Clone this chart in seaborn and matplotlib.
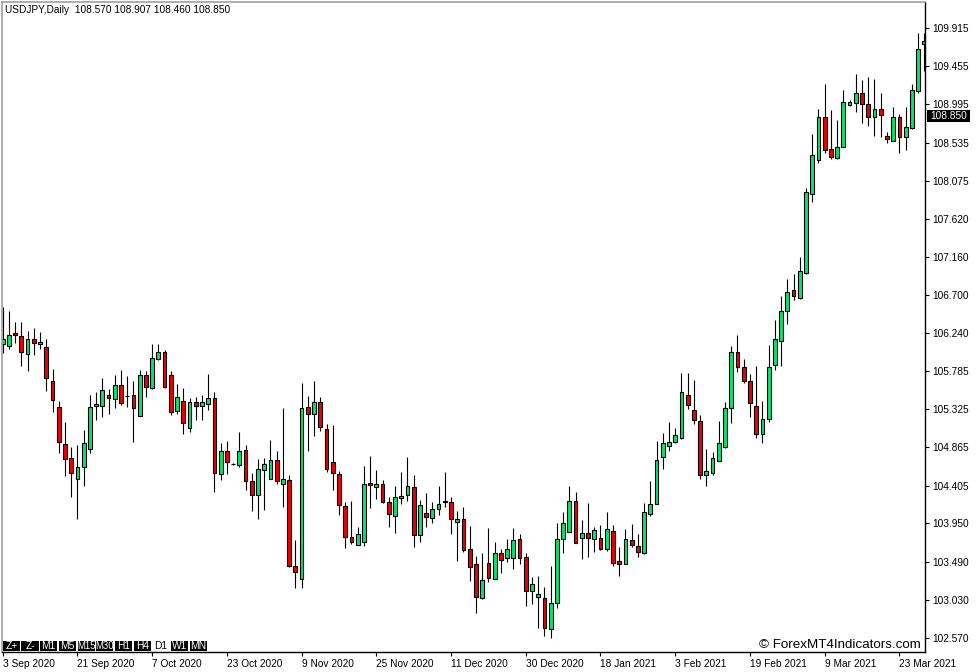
import matplotlib
matplotlib.use("Agg")
import matplotlib.pyplot as plt
from matplotlib.patches import Rectangle
import numpy as np
import pandas as pd
import seaborn as sns

# ---------------- data ----------------
opens = [106.110, 106.086, 106.242, 106.210, 105.985, 106.170, 106.106, 106.078, 105.664, 105.347,
         104.906, 104.733, 104.480, 104.625, 104.842, 105.363, 105.367, 105.492, 105.448, 105.616,
         105.484, 105.496, 105.243, 105.733, 105.584, 105.925, 106.010, 105.741, 105.303, 105.424,
         105.094, 105.412, 105.359, 105.384, 105.456, 104.545, 104.821, 104.665, 104.653, 104.830,
         104.456, 104.296, 104.597, 104.488, 104.709, 104.428, 104.476, 103.433, 103.276, 105.347,
         105.263, 105.407, 105.087, 104.685, 104.541, 104.155, 103.782, 103.686, 103.730, 104.432,
         104.392, 104.421, 104.212, 104.035, 104.252, 104.288, 104.384, 103.806, 104.071, 104.015,
         104.120, 104.212, 104.204, 103.963, 103.999, 103.642, 103.457, 103.056, 103.469, 103.285,
         103.594, 103.529, 103.529, 103.758, 103.549, 103.132, 103.068, 103.047, 102.674, 102.995,
         103.758, 103.846, 104.223, 103.770, 103.838, 103.758, 103.774, 103.637, 103.854, 103.493,
         103.457, 103.754, 103.678, 103.589, 104.063, 104.179, 104.746, 104.878, 104.926, 104.983,
         105.492, 105.311, 105.179, 104.529, 104.553, 104.698, 104.874, 105.344, 106.010, 105.833,
         105.661, 105.360, 105.031, 105.203, 105.862, 106.142, 106.512, 106.757, 106.660, 106.961,
         107.916, 108.325, 108.839, 108.454, 108.345, 108.486, 108.984, 109.008, 109.136, 108.996,
         108.839, 108.935, 108.610, 108.558, 108.839, 108.606, 108.715, 109.156, 109.722]
highs = [106.559, 106.507, 106.379, 106.379, 106.266, 106.298, 106.258, 106.166, 105.805, 105.423,
         105.167, 104.874, 104.894, 105.074, 105.492, 105.532, 105.696, 105.572, 105.736, 105.797,
         105.725, 105.668, 105.793, 105.785, 106.110, 106.110, 106.038, 105.785, 105.628, 105.576,
         105.456, 105.468, 105.496, 105.745, 105.528, 104.914, 104.942, 104.681, 105.050, 104.890,
         104.557, 104.725, 104.737, 104.950, 104.826, 105.339, 104.529, 103.754, 105.640, 105.480,
         105.668, 105.468, 105.151, 105.131, 104.585, 104.208, 104.216, 103.906, 104.637, 104.757,
         104.593, 104.473, 104.272, 104.400, 104.569, 104.746, 104.533, 104.232, 104.312, 104.208,
         104.400, 104.569, 104.264, 104.099, 104.144, 103.915, 103.558, 103.598, 103.891, 103.726,
         103.646, 103.766, 103.891, 103.818, 103.589, 103.304, 103.316, 103.184, 103.437, 103.951,
         104.087, 104.400, 104.328, 103.991, 104.200, 103.906, 103.926, 104.087, 103.926, 103.665,
         103.878, 103.938, 103.818, 104.191, 104.460, 104.942, 105.035, 105.171, 105.103, 105.765,
         105.765, 105.673, 105.252, 104.850, 104.810, 105.187, 105.416, 106.086, 106.223, 105.926,
         105.745, 105.845, 105.424, 106.094, 106.399, 106.688, 106.889, 106.949, 107.153, 107.984,
         108.638, 108.935, 109.240, 108.927, 108.807, 109.168, 109.048, 109.361, 109.289, 109.321,
         109.305, 109.128, 108.666, 108.960, 108.875, 108.960, 109.236, 109.850, 109.850]
lows = [105.999, 106.046, 106.126, 105.849, 105.789, 105.977, 106.046, 105.544, 105.287, 104.793,
        104.520, 104.272, 103.999, 104.400, 104.793, 105.195, 105.235, 105.267, 105.335, 105.375,
        105.355, 104.934, 105.243, 105.468, 105.568, 105.917, 105.576, 105.255, 105.263, 105.026,
        105.054, 105.195, 105.195, 105.315, 104.332, 104.472, 104.541, 104.653, 104.633, 104.356,
        104.103, 104.007, 104.115, 104.484, 104.424, 104.143, 103.425, 103.172, 103.172, 104.818,
        105.000, 105.066, 104.565, 104.356, 104.055, 103.654, 103.706, 103.686, 103.674, 104.135,
        104.248, 104.192, 103.903, 103.831, 104.180, 104.224, 103.670, 103.730, 103.911, 103.951,
        104.047, 104.144, 103.819, 103.501, 103.610, 103.257, 102.867, 103.036, 103.249, 103.277,
        103.349, 103.489, 103.397, 103.457, 102.955, 102.983, 102.694, 102.594, 102.574, 102.935,
        103.589, 103.846, 103.714, 103.517, 103.549, 103.605, 103.625, 103.617, 103.437, 103.316,
        103.457, 103.670, 103.549, 103.577, 104.035, 104.179, 104.601, 104.822, 104.914, 104.963,
        105.323, 105.143, 104.489, 104.401, 104.533, 104.698, 104.862, 105.163, 105.773, 105.645,
        105.235, 104.983, 104.914, 105.171, 105.797, 105.846, 106.355, 106.636, 106.648, 106.953,
        107.816, 108.293, 108.414, 108.333, 108.333, 108.478, 108.976, 108.907, 108.767, 108.735,
        108.614, 108.606, 108.534, 108.558, 108.405, 108.446, 108.695, 109.136, 109.400]
closes = [106.166, 106.218, 106.218, 106.013, 106.170, 106.118, 106.134, 105.696, 105.435, 104.934,
          104.729, 104.553, 104.633, 104.914, 105.347, 105.383, 105.556, 105.456, 105.612, 105.403,
          105.486, 105.335, 105.733, 105.588, 105.937, 106.010, 105.596, 105.291, 105.468, 105.155,
          105.412, 105.367, 105.416, 105.456, 104.561, 104.821, 104.693, 104.667, 104.825, 104.456,
          104.296, 104.605, 104.661, 104.709, 104.464, 104.484, 103.441, 103.361, 105.335, 105.263,
          105.407, 105.107, 104.609, 104.553, 104.175, 103.782, 103.722, 103.818, 104.420, 104.408,
          104.420, 104.204, 104.063, 104.268, 104.276, 104.396, 103.806, 104.168, 104.023, 104.128,
          104.180, 104.210, 104.007, 104.007, 103.634, 103.425, 103.060, 103.265, 103.289, 103.594,
          103.509, 103.642, 103.750, 103.529, 103.132, 103.216, 103.096, 102.690, 102.987, 103.758,
          103.951, 104.215, 103.714, 103.830, 103.770, 103.866, 103.645, 103.878, 103.477, 103.465,
          103.762, 103.686, 103.605, 104.091, 104.183, 104.709, 104.914, 104.926, 105.011, 105.528,
          105.372, 105.195, 104.537, 104.577, 104.734, 104.914, 105.344, 106.010, 105.837, 105.665,
          105.404, 105.031, 105.203, 105.837, 106.175, 106.504, 106.736, 106.684, 106.989, 107.944,
          108.385, 108.839, 108.446, 108.357, 108.478, 109.024, 109.020, 109.136, 108.996, 108.839,
          108.935, 108.871, 108.574, 108.839, 108.606, 108.719, 109.164, 109.666, 109.762]

date_labels = ["3 Sep 2020", "21 Sep 2020", "7 Oct 2020", "23 Oct 2020", "9 Nov 2020",
               "25 Nov 2020", "11 Dec 2020", "30 Dec 2020", "18 Jan 2021", "3 Feb 2021",
               "19 Feb 2021", "9 Mar 2021", "23 Mar 2021"]
label_step = 12
price_ticks = [109.915, 109.455, 108.995, 108.535, 108.075, 107.620, 107.160, 106.700,
               106.240, 105.785, 105.325, 104.865, 104.405, 103.950, 103.490, 103.030, 102.570]
header = "USDJPY,Daily  108.570 108.907 108.460 108.850"
current_price = 108.850
timeframes = ["Z+", "Z-", "M1", "M5", "M15", "M30", "H1", "H4", "D1", "W1", "MN"]
active_tf = "D1"
watermark = "\u00a9 ForexMT4Indicators.com"

# ---------------- style ----------------
sns.set_theme(style="white")
plt.rcParams['font.family'] = ['Liberation Sans', 'DejaVu Sans']

W, H = 977, 672
fx = lambda px: px / W
fy = lambda py: 1 - py / H

df = pd.DataFrame({"open": opens, "high": highs, "low": lows, "close": closes})
df["idx"] = np.arange(len(df))
df["bull"] = df["close"] >= df["open"]
df["bottom"] = df[["open", "close"]].min(axis=1)
df["height"] = (df["close"] - df["open"]).abs().clip(lower=0.004)

fig = plt.figure(figsize=(W / 100, H / 100), dpi=100)
fig.patch.set_facecolor("white")
ax = fig.add_axes([fx(2), 20 / H, 923 / W, 650 / H])
ax.set_facecolor("white")

BULL = "#00e676"
BEAR = "#ee0000"

ax.vlines(df["idx"], df["low"], df["high"], color="black", lw=0.8, zorder=1)
ax.bar(df["idx"], df["height"], bottom=df["bottom"], width=0.6,
       color=np.where(df["bull"], BULL, BEAR), edgecolor="black", linewidth=0.8, zorder=2)

ax.set_xlim(-0.11, 148.11)
ax.set_ylim(102.401, 110.228)

# axes ticks
ax.yaxis.tick_right()
ax.set_yticks(price_ticks)
ax.set_yticklabels([f"{v:.3f}" for v in price_ticks], fontsize=7.3, color="black")
ax.set_xticks(np.arange(len(date_labels)) * label_step)
ax.set_xticklabels(date_labels, fontsize=7.3, color="black", ha="left")
ax.tick_params(axis="y", which="both", direction="out", length=3, width=0.8,
               colors="black", pad=2, right=True, left=False)
ax.tick_params(axis="x", which="both", direction="out", length=3, width=0.8,
               colors="black", pad=2, bottom=True)
for lab in ax.get_xticklabels():
    lab.set_horizontalalignment("left")
ax.grid(False)

for side in ["right", "bottom"]:
    ax.spines[side].set_color("black")
    ax.spines[side].set_linewidth(1.0)
    ax.spines[side].set_visible(True)
for side in ["left", "top"]:
    ax.spines[side].set_color("#a0a0a0")
    ax.spines[side].set_linewidth(1.2)
    ax.spines[side].set_visible(True)

# header
fig.text(fx(5), fy(10), header, fontsize=7.3, va="center", ha="left", color="black")

# current price label
py = ax.transData.transform((0, current_price))[1]
fig.patches.append(Rectangle((fx(927), (py - 6) / H), 43 / W, 12 / H,
                             transform=fig.transFigure, facecolor="black",
                             edgecolor="none", zorder=5))
fig.text(fx(948.5), py / H, f"{current_price:.3f}", fontsize=7.3, color="white",
         va="center", ha="center", zorder=6)

# timeframe toolbar
x0 = 2.7
bw = 17.2
gap = 1.5
for k, tf in enumerate(timeframes):
    bx = x0 + k * (bw + gap)
    active = tf == active_tf
    fig.patches.append(Rectangle((fx(bx), fy(651)), bw / W, 10 / H,
                                 transform=fig.transFigure,
                                 facecolor="white" if active else "black",
                                 edgecolor="none", zorder=5))
    fig.text(fx(bx + bw / 2), fy(646.2), tf, fontsize=7.4 if len(tf) < 3 else 6.9,
             color="black" if active else "white", ha="center", va="center", zorder=6)

# watermark
fig.text(fx(921), fy(644.5), watermark, fontsize=9.6, color="black",
         ha="right", va="center", zorder=6)

fig.savefig("out.png", dpi=100, facecolor="white")
